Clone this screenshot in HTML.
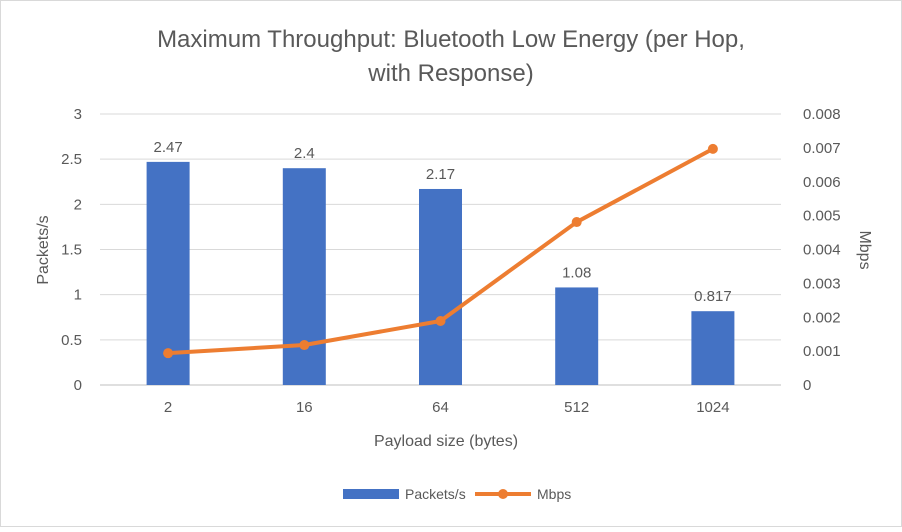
<!DOCTYPE html>
<html><head><meta charset="utf-8"><style>
body{margin:0;background:#fff;font-family:"Liberation Sans",sans-serif}
svg text{font-family:"Liberation Sans",sans-serif;fill:#595959}
</style></head><body>
<svg id="c" width="902" height="527">
<rect x="0.5" y="0.5" width="901" height="526" fill="#fff" stroke="#d9d9d9"/>
<text x="451" y="47" text-anchor="middle" font-size="24">Maximum Throughput: Bluetooth Low Energy (per Hop,</text>
<text x="451" y="81" text-anchor="middle" font-size="24">with Response)</text>
<g id="grid"></g><g id="bars"></g><g id="line"></g><g id="axes"></g>
<text transform="translate(48,250) rotate(-90)" text-anchor="middle" font-size="16">Packets/s</text>
<text transform="translate(860,250) rotate(90)" text-anchor="middle" font-size="16">Mbps</text>
<text x="446" y="446" text-anchor="middle" font-size="16">Payload size (bytes)</text>
<g>
<rect x="343" y="489" width="56" height="10" fill="#4472c4"/>
<text x="405" y="499" font-size="14">Packets/s</text>
<line x1="475" y1="494" x2="531" y2="494" stroke="#ed7d31" stroke-width="4"/>
<circle cx="503" cy="494" r="5" fill="#ed7d31"/>
<text x="537" y="499" font-size="14">Mbps</text>
</g>
</svg>
<script>
const categories=["2","16","64","512","1024"];
const packets=[2.47,2.4,2.17,1.08,0.817];
const mbps=[0.00094,0.00118,0.00189,0.00481,0.00697];
const leftTicks=["0","0.5","1","1.5","2","2.5","3"];
const rightTicks=["0","0.001","0.002","0.003","0.004","0.005","0.006","0.007","0.008"];
const NS="http://www.w3.org/2000/svg";
const x0=100,x1=781,yB=385,yT=114;
const band=(x1-x0)/categories.length;
const xc=i=>x0+band*(i+0.5);
const yL=v=>yB-(v/3)*(yB-yT);
const yR=v=>yB-(v/0.008)*(yB-yT);
function mk(t,a,p){const e=document.createElementNS(NS,t);for(const k in a)e.setAttribute(k,a[k]);p.appendChild(e);return e;}
const g=document.getElementById('grid'),b=document.getElementById('bars'),l=document.getElementById('line'),ax=document.getElementById('axes');
leftTicks.forEach(t=>{const y=yL(+t);
const ln=mk('line',{x1:x0,x2:x1,y1:y,y2:y,stroke:t==="0"?"#bfbfbf":"#d9d9d9"},g);


const tx=mk('text',{x:82,y:y+5,'text-anchor':'end','font-size':15},ax);tx.textContent=t;

});
rightTicks.forEach(t=>{const y=yR(+t);
const tx=mk('text',{x:803,y:y+5,'font-size':15},ax);tx.textContent=t;

});
categories.forEach((c,i)=>{
const tx=mk('text',{x:xc(i),y:412,'text-anchor':'middle','font-size':15},ax);tx.textContent=c;


const y=yL(packets[i]);
const r=mk('rect',{x:xc(i)-21.5,y:y,width:43,height:yB-y,fill:'#4472c4'},b);


const lb=mk('text',{x:xc(i),y:y-10,'text-anchor':'middle','font-size':15,fill:'#404040'},b);lb.textContent=String(packets[i]);


});
const pts=mbps.map((v,i)=>xc(i)+','+yR(v)).join(' ');
const pl=mk('polyline',{points:pts,fill:'none',stroke:'#ed7d31','stroke-width':4,'stroke-linejoin':'round'},l);


mbps.forEach((v,i)=>{const c=mk('circle',{cx:xc(i),cy:yR(v),r:5,fill:'#ed7d31'},l);

});
</script>
</body></html>
